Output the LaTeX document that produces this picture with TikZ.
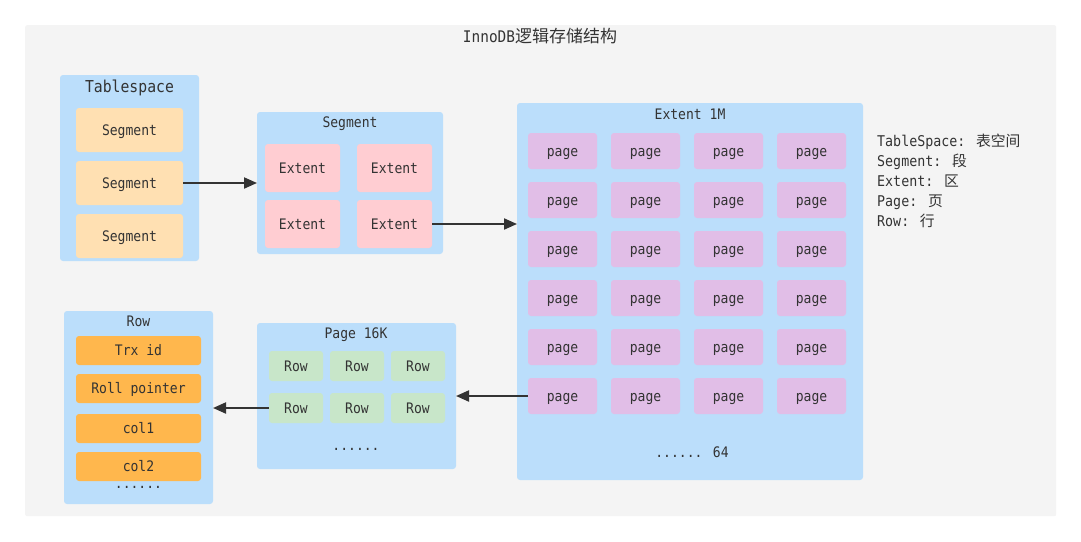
\documentclass[tikz,border=0pt]{standalone}
\usepackage{fontspec}
\setmainfont{DejaVu Sans Mono}[FakeStretch=0.9]
\newfontfamily\cjk{Noto Sans CJK SC}
\usetikzlibrary{arrows.meta}
\definecolor{bgc}{HTML}{F4F4F4}
\definecolor{cont}{HTML}{BBDEFB}
\definecolor{segc}{HTML}{FFE0B2}
\definecolor{extc}{HTML}{FFCDD2}
\definecolor{pagec}{HTML}{E1BEE7}
\definecolor{rowc}{HTML}{C8E6C9}
\definecolor{fldc}{HTML}{FFB74D}
\definecolor{txt}{HTML}{333333}
\tikzset{
  box/.style={anchor=north west, inner sep=0pt, outer sep=0pt, rounded corners=3pt, text=txt, text height=10.5pt, text depth=0pt, font=\fontsize{14.5}{16}\selectfont},
  contbox/.style={box, fill=cont},
  segbox/.style={box, fill=segc},
  extbox/.style={box, fill=extc},
  pagebox/.style={box, fill=pagec},
  rowbox/.style={box, fill=rowc},
  fldbox/.style={box, fill=fldc},
  ttl/.style={text=txt, inner sep=0pt, text height=10.5pt, text depth=0pt, font=\fontsize{14.5}{16}\selectfont},
  lbl/.style={text=txt, inner sep=0pt, anchor=west, text height=10.5pt, text depth=0pt, font=\fontsize{14.8}{16}\selectfont},
  conn/.style={draw=txt, line width=2pt, -{Triangle[length=13pt,width=11pt]}},
}
\begin{document}
\begin{tikzpicture}[x=1pt,y=-1pt]
\useasboundingbox (0,0) rectangle (1081,541);
\fill[white] (0,0) rectangle (1081,541);
\node[fill=bgc, anchor=north west, inner sep=0pt, minimum width=1031pt, minimum height=491pt, rounded corners=2pt] (panel) at (25,25) {};
\node[ttl, text height=11.5pt, font=\fontsize{16}{18}\selectfont] (title) at (540,37) {InnoDB{\cjk\fontsize{17}{18}\selectfont 逻辑存储结构}};

% Tablespace
\node[contbox, minimum width=139pt, minimum height=186pt] (tbs) at (60,75) {};
\node[ttl, text height=11.8pt, font=\fontsize{16.4}{18}\selectfont] (tbst) at (129.5,86.5) {Tablespace};
\node[segbox, minimum width=107pt, minimum height=44pt] (s1) at (76,108) {Segment};
\node[segbox, minimum width=107pt, minimum height=44pt] (s2) at (76,161) {Segment};
\node[segbox, minimum width=107pt, minimum height=44pt] (s3) at (76,214) {Segment};

% Segment
\node[contbox, minimum width=186pt, minimum height=142pt] (seg) at (257,112) {};
\node[ttl] (segt) at (350,122.5) {Segment};
\node[extbox, minimum width=75pt, minimum height=48pt] (e1) at (265,144) {Extent};
\node[extbox, minimum width=75pt, minimum height=48pt] (e2) at (357,144) {Extent};
\node[extbox, minimum width=75pt, minimum height=48pt] (e3) at (265,200) {Extent};
\node[extbox, minimum width=75pt, minimum height=48pt] (e4) at (357,200) {Extent};

% Extent 1M
\node[contbox, minimum width=346pt, minimum height=377pt] (ext) at (517,103) {};
\node[ttl] (extt) at (690,114) {Extent 1M};
\foreach \r [count=\i] in {133,182,231,280,329,378}{
  \foreach \c [count=\j] in {528,611,694,777}{
    \node[pagebox, minimum width=69pt, minimum height=36pt] (p\i\j) at (\c,\r) {page};
  }
}
\node[ttl] (extdots) at (692,452.5) {...... 64};

% Page 16K
\node[contbox, minimum width=199pt, minimum height=146pt] (pg) at (257,323) {};
\node[ttl] (pgt) at (356,333.5) {Page 16K};
\foreach \r [count=\i] in {351,393}{
  \foreach \c [count=\j] in {269,330,391}{
    \node[rowbox, minimum width=54pt, minimum height=30pt] (r\i\j) at (\c,\r) {Row};
  }
}
\node[ttl] (pgdots) at (356,445.5) {......};

% Row
\node[contbox, minimum width=149pt, minimum height=193pt] (row) at (64,311) {};
\node[ttl] (rowt) at (138.5,321.5) {Row};
\node[fldbox, minimum width=125pt, minimum height=29pt] (f1) at (76,336) {Trx id};
\node[fldbox, minimum width=125pt, minimum height=29pt] (f2) at (76,374) {Roll pointer};
\node[fldbox, minimum width=125pt, minimum height=29pt] (f3) at (76,414) {col1};
\node[fldbox, minimum width=125pt, minimum height=29pt] (f4) at (76,452) {col2};
\node[ttl] (rowdots) at (138.5,483.5) {......};

% Legend
\node[lbl] (l1) at (877,141) {TableSpace: {\cjk 表空间}};
\node[lbl] (l2) at (877,161) {Segment: {\cjk 段}};
\node[lbl] (l3) at (877,181) {Extent: {\cjk 区}};
\node[lbl] (l4) at (877,201) {Page: {\cjk 页}};
\node[lbl] (l5) at (877,221) {Row: {\cjk 行}};

% Connectors
\draw[conn] (s2.east) -- (s2.east -| seg.west);
\draw[conn] (e4.east) -- (e4.east -| ext.west);
\draw[conn] (p61.west) -- (p61.west -| pg.east);
\draw[conn] (r21.west) -- (r21.west -| row.east);
\end{tikzpicture}
\end{document}
